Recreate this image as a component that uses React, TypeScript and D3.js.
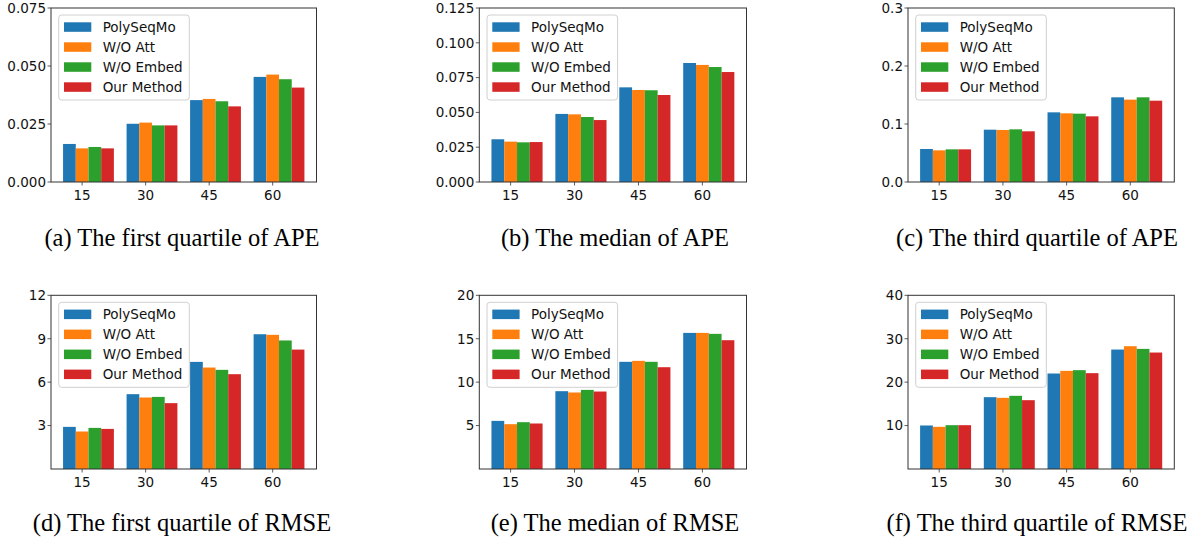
import React from 'react';
import * as d3 from 'd3';

// Categories and series
const HORIZONS = ['15', '30', '45', '60'];
const METHODS = ['PolySeqMo', 'W/O Att', 'W/O Embed', 'Our Method'];
const METHOD_COLORS = ['#1f77b4', '#ff7f0e', '#2ca02c', '#d62728'];

// Values per method (rows) and horizon (columns)
const APE_Q1 = [
  [0.0164, 0.0251, 0.0353, 0.0453],
  [0.0145, 0.0256, 0.0358, 0.0463],
  [0.0151, 0.0244, 0.0348, 0.0443],
  [0.0145, 0.0244, 0.0326, 0.0407],
];
const APE_MEDIAN = [
  [0.0307, 0.0489, 0.068, 0.0855],
  [0.029, 0.0486, 0.0661, 0.0841],
  [0.0285, 0.0467, 0.0659, 0.0826],
  [0.0287, 0.0445, 0.0625, 0.079],
];
const APE_Q3 = [
  [0.0569, 0.0902, 0.1201, 0.146],
  [0.0546, 0.0897, 0.1184, 0.142],
  [0.0563, 0.0908, 0.1178, 0.146],
  [0.0563, 0.0874, 0.1132, 0.1402],
];
const RMSE_Q1 = [
  [2.91, 5.17, 7.4, 9.31],
  [2.59, 4.94, 7.01, 9.27],
  [2.84, 4.98, 6.85, 8.88],
  [2.77, 4.55, 6.55, 8.25],
];
const RMSE_MEDIAN = [
  [5.54, 8.96, 12.34, 15.67],
  [5.16, 8.81, 12.45, 15.67],
  [5.39, 9.11, 12.34, 15.56],
  [5.24, 8.92, 11.72, 14.83],
];
const RMSE_Q3 = [
  [10.02, 16.54, 21.99, 27.51],
  [9.71, 16.39, 22.6, 28.28],
  [10.09, 16.85, 22.76, 27.66],
  [10.09, 15.85, 22.07, 26.82],
];

// Tick values
const APE_Q1_TICKS = [0, 0.025, 0.05, 0.075];
const APE_MEDIAN_TICKS = [0, 0.025, 0.05, 0.075, 0.1, 0.125];
const APE_Q3_TICKS = [0, 0.1, 0.2, 0.3];
const RMSE_Q1_TICKS = [3, 6, 9, 12];
const RMSE_MEDIAN_TICKS = [5, 10, 15, 20];
const RMSE_Q3_TICKS = [10, 20, 30, 40];

const CAPTIONS = [
  '(a) The first quartile of APE',
  '(b) The median of APE',
  '(c) The third quartile of APE',
  '(d) The first quartile of RMSE',
  '(e) The median of RMSE',
  '(f) The third quartile of RMSE',
];

const W = 1191;
const H = 537;
const SANS = '"DejaVu Sans", sans-serif';
const SERIF = '"Liberation Serif", "Times New Roman", serif';
const FONT = 13.5;
const BAR_W = 0.2;

// layout of the six axes boxes
const COLS = [
  { left: 51, right: 316.5, caption: 182 },
  { left: 479.3, right: 746.5, caption: 615 },
  { left: 908, right: 1174.3, caption: 1037 },
];
const ROWS = [
  { top: 8, bottom: 182, caption: 238 },
  { top: 295.3, bottom: 469, caption: 523 },
];

const PANELS = [
  { data: APE_Q1, ticks: APE_Q1_TICKS, max: 0.075, fmt: '.3f' },
  { data: APE_MEDIAN, ticks: APE_MEDIAN_TICKS, max: 0.125, fmt: '.3f' },
  { data: APE_Q3, ticks: APE_Q3_TICKS, max: 0.3, fmt: '.1f' },
  { data: RMSE_Q1, ticks: RMSE_Q1_TICKS, max: 12, fmt: 'd' },
  { data: RMSE_MEDIAN, ticks: RMSE_MEDIAN_TICKS, max: 20, fmt: 'd' },
  { data: RMSE_Q3, ticks: RMSE_Q3_TICKS, max: 40, fmt: 'd' },
];

function Panel({ idx }: { idx: number }) {
  const p = PANELS[idx];
  const col = COLS[idx % 3];
  const row = ROWS[Math.floor(idx / 3)];

  // bars at i + k*0.2 (centered), matplotlib-like 5% margins
  const lo = -BAR_W / 2;
  const hi = HORIZONS.length - 1 + (METHODS.length - 1) * BAR_W + BAR_W / 2;
  const pad = (hi - lo) * 0.05;
  const x = d3.scaleLinear().domain([lo - pad, hi + pad]).range([col.left, col.right]);
  const y = d3.scaleLinear().domain([0, p.max]).range([row.bottom, row.top]);
  const fmt = d3.format(p.fmt);
  const bw = x(BAR_W) - x(0);

  const legX = col.left + 7.7;
  const legY = row.top + 7;

  return (
    <g>
      {/* bars */}
      {p.data.map((vals, k) =>
        vals.map((v, i) => (
          <rect
            key={`${k}-${i}`}
            x={x(i + k * BAR_W) - bw / 2}
            y={y(v)}
            width={bw}
            height={row.bottom - y(v)}
            fill={METHOD_COLORS[k]}
          />
        ))
      )}

      {/* frame */}
      <rect
        x={col.left}
        y={row.top}
        width={col.right - col.left}
        height={row.bottom - row.top}
        fill="none"
        stroke="#333"
        strokeWidth={1}
      />

      {/* y ticks */}
      {p.ticks.map(t => (
        <g key={t}>
          <line x1={col.left - 3.5} x2={col.left} y1={y(t)} y2={y(t)} stroke="#333" strokeWidth={0.8} />
          <text
            x={col.left - 5}
            y={y(t)}
            dy="0.36em"
            textAnchor="end"
            fontFamily={SANS}
            fontSize={FONT}
            fill="#111"
          >
            {fmt(t)}
          </text>
        </g>
      ))}

      {/* x ticks */}
      {HORIZONS.map((h, i) => (
        <g key={h}>
          <line x1={x(i + BAR_W)} x2={x(i + BAR_W)} y1={row.bottom} y2={row.bottom + 3.5} stroke="#333" strokeWidth={0.8} />
          <text
            x={x(i + BAR_W)}
            y={row.bottom + 7}
            dy="0.8em"
            textAnchor="middle"
            fontFamily={SANS}
            fontSize={FONT}
            fill="#111"
          >
            {h}
          </text>
        </g>
      ))}

      {/* legend */}
      <rect
        x={legX}
        y={legY}
        width={130.6}
        height={85}
        rx={3}
        fill="#fff"
        fillOpacity={0.8}
        stroke="#d0d0d0"
        strokeWidth={1}
      />
      {METHODS.map((m, k) => (
        <g key={m}>
          <rect x={legX + 5.3} y={legY + 7.3 + k * 20} width={27.3} height={9.5} fill={METHOD_COLORS[k]} />
          <text
            x={legX + 44}
            y={legY + 12 + k * 20}
            dy="0.36em"
            fontFamily={SANS}
            fontSize={FONT}
            fill="#111"
          >
            {m}
          </text>
        </g>
      ))}

      {/* caption */}
      <text
        x={col.caption}
        y={row.caption}
        dy="0.33em"
        textAnchor="middle"
        fontFamily={SERIF}
        fontSize={24.5}
        fill="#000"
      >
        {CAPTIONS[idx]}
      </text>
    </g>
  );
}

export default function App() {
  return (
    <svg
      width={W}
      height={H}
      viewBox={`0 0 ${W} ${H}`}
      style={{ position: 'absolute', left: 0, top: 0, background: '#fff' }}
    >
      <rect width={W} height={H} fill="#fff" />
      {PANELS.map((_, i) => (
        <Panel key={i} idx={i} />
      ))}
    </svg>
  );
}
